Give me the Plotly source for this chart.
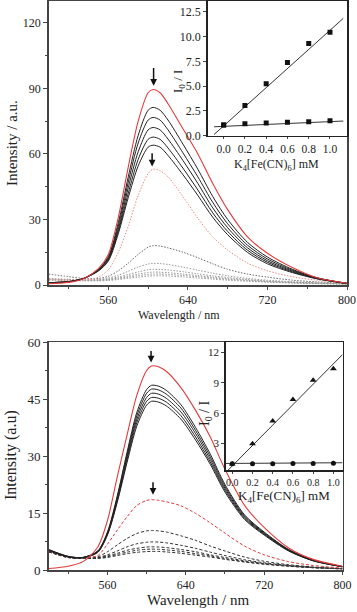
import plotly.graph_objects as go

FONT = "Liberation Serif"
W, H = 357, 612

# ---------------- data ----------------
wavelength = [500, 520, 535, 550, 560, 570, 580, 590, 600, 605, 612, 620, 635, 650, 665, 680, 700, 720, 745, 770, 800]

# top panel
top_red = [0.6, 1.2, 2.9, 7.5, 14.0, 31.0, 54.0, 75.0, 88.0, 89.5, 88.0, 83.0, 71.5, 60.0, 46.5, 34.5, 22.0, 14.5, 8.0, 3.3, 0.8]
top_black = [
    [1.1, 1.5, 3.0, 7.2, 13.0, 28.5, 49.5, 68.5, 80.0, 81.3, 80.0, 75.5, 64.5, 53.0, 40.5, 30.0, 19.5, 12.8, 7.2, 3.3, 0.7],
    [1.1, 1.5, 3.0, 7.0, 12.5, 27.0, 47.0, 65.0, 75.5, 76.7, 75.5, 71.0, 60.5, 49.5, 37.8, 28.0, 18.2, 11.9, 6.8, 3.2, 0.7],
    [1.1, 1.5, 3.0, 6.8, 12.0, 25.5, 44.5, 61.0, 71.0, 72.1, 71.0, 66.8, 57.0, 46.5, 35.3, 26.2, 17.0, 11.1, 6.4, 3.1, 0.7],
    [1.1, 1.5, 3.0, 6.6, 11.5, 24.5, 42.0, 57.5, 66.7, 67.7, 66.7, 62.7, 53.5, 43.5, 33.0, 24.5, 15.9, 10.4, 6.0, 2.9, 0.7],
    [1.1, 1.5, 3.0, 6.4, 11.0, 23.5, 40.0, 54.5, 63.1, 64.0, 63.1, 59.3, 50.5, 41.0, 31.0, 23.0, 14.9, 9.7, 5.7, 2.8, 0.7],
]
top_red_dot = [2.5, 2.2, 2.3, 3.5, 7.0, 15.0, 27.0, 41.0, 51.0, 53.0, 52.3, 49.5, 40.5, 30.5, 22.0, 16.0, 10.0, 6.5, 3.8, 2.2, 1.0]
top_gray_dot = [
    [5.0, 3.8, 3.0, 3.0, 4.0, 6.5, 10.0, 14.0, 17.3, 18.0, 17.8, 17.0, 15.0, 12.5, 9.7, 7.2, 5.0, 3.6, 2.2, 1.4, 0.8],
    [3.0, 2.6, 2.4, 2.5, 3.2, 4.5, 6.3, 8.2, 9.6, 9.9, 9.8, 9.4, 8.2, 6.8, 5.4, 4.2, 3.0, 2.2, 1.5, 1.0, 0.6],
    [2.8, 2.5, 2.3, 2.3, 2.8, 3.7, 4.8, 6.0, 7.0, 7.2, 7.1, 6.9, 6.1, 5.1, 4.2, 3.4, 2.5, 1.8, 1.3, 0.9, 0.6],
    [2.6, 2.4, 2.2, 2.2, 2.5, 3.2, 4.1, 5.0, 5.7, 5.9, 5.85, 5.65, 5.0, 4.3, 3.6, 2.9, 2.2, 1.6, 1.1, 0.8, 0.5],
    [2.4, 2.2, 2.1, 2.1, 2.3, 2.9, 3.6, 4.3, 4.85, 5.0, 5.0, 4.85, 4.35, 3.8, 3.2, 2.6, 2.0, 1.5, 1.0, 0.7, 0.5],
    [2.2, 2.0, 1.9, 1.9, 2.1, 2.5, 3.1, 3.6, 4.1, 4.2, 4.2, 4.1, 3.7, 3.2, 2.7, 2.2, 1.7, 1.3, 0.9, 0.6, 0.4],
]

# bottom panel
bot_red = [0.4, 1.0, 2.2, 6.0, 13.0, 24.5, 35.5, 46.0, 52.5, 53.7, 53.5, 52.3, 48.0, 42.0, 35.0, 26.5, 17.0, 11.2, 5.8, 2.8, 1.0]
bot_black = [
    [5.4, 3.6, 3.3, 5.0, 10.0, 19.5, 31.0, 41.5, 47.5, 48.6, 48.4, 47.3, 43.5, 37.5, 30.5, 22.5, 14.5, 10.0, 5.4, 2.6, 0.9],
    [5.3, 3.55, 3.3, 4.9, 9.8, 19.1, 30.4, 40.6, 46.5, 47.6, 47.4, 46.3, 42.6, 36.7, 29.8, 22.0, 14.2, 9.8, 5.3, 2.55, 0.9],
    [5.25, 3.5, 3.3, 4.8, 9.6, 18.7, 29.7, 39.7, 45.4, 46.5, 46.3, 45.2, 41.6, 35.9, 29.1, 21.5, 13.9, 9.6, 5.2, 2.5, 0.9],
    [5.2, 3.45, 3.25, 4.7, 9.4, 18.2, 29.0, 38.8, 44.4, 45.4, 45.2, 44.2, 40.6, 35.0, 28.4, 21.0, 13.6, 9.4, 5.1, 2.45, 0.85],
    [5.1, 3.4, 3.2, 4.6, 9.2, 17.8, 28.3, 37.9, 43.4, 44.4, 44.2, 43.2, 39.7, 34.2, 27.8, 20.5, 13.3, 9.2, 5.0, 2.4, 0.85],
]
bot_red_dash = [5.0, 3.4, 3.2, 3.8, 6.8, 10.5, 14.0, 17.0, 18.3, 18.5, 18.35, 17.95, 16.9, 14.9, 12.4, 9.7, 6.3, 4.0, 2.2, 1.2, 0.5]
bot_black_dash = [
    [5.0, 3.4, 3.2, 3.5, 4.8, 6.6, 8.3, 9.6, 10.3, 10.4, 10.3, 10.0, 9.0, 7.8, 6.3, 5.0, 3.4, 2.3, 1.4, 0.8, 0.4],
    [4.9, 3.35, 3.15, 3.3, 4.0, 5.0, 6.1, 6.9, 7.3, 7.4, 7.35, 7.15, 6.5, 5.7, 4.7, 3.8, 2.7, 1.9, 1.2, 0.7, 0.35],
    [4.85, 3.3, 3.1, 3.2, 3.7, 4.4, 5.2, 5.7, 6.05, 6.1, 6.05, 5.9, 5.4, 4.8, 4.0, 3.3, 2.4, 1.7, 1.1, 0.65, 0.3],
    [4.8, 3.3, 3.1, 3.1, 3.5, 4.1, 4.7, 5.2, 5.45, 5.5, 5.45, 5.3, 4.9, 4.3, 3.7, 3.0, 2.2, 1.6, 1.0, 0.6, 0.3],
    [4.75, 3.25, 3.05, 3.05, 3.3, 3.8, 4.3, 4.65, 4.85, 4.9, 4.88, 4.75, 4.4, 3.9, 3.4, 2.8, 2.1, 1.5, 1.0, 0.6, 0.3],
]

# insets (Stern-Volmer)
conc = [0.0, 0.2, 0.4, 0.6, 0.8, 1.0]
top_sv_high = [1.07, 3.05, 5.25, 7.4, 9.3, 10.45]
top_sv_low = [1.07, 1.2, 1.27, 1.35, 1.42, 1.5]
top_fit_x = [-0.09, 1.125]
top_fit_high = [0.12, 11.85]
top_fit_low = [0.9, 1.48]

bot_sv_high = [0.95, 2.95, 5.2, 7.35, 9.25, 10.4]
bot_sv_low = [0.97, 0.98, 0.98, 0.99, 1.0, 1.03]
bot_fit_x = [-0.04, 1.09]
bot_fit_high = [0.35, 11.8]
bot_fit_low_x = [-0.065, 1.09]
bot_fit_low = [1.0, 1.07]

# arrows: (wavelength, tail value, head value)
top_arrows = [(605.5, 100.0, 91.2), (604.0, 61.0, 54.2)]
bot_arrows = [(604.5, 58.0, 54.6), (606.5, 23.5, 19.8)]

RED = "#e23b3b"
fig = go.Figure()

def curve(y, xa, ya, color, dash="solid", width=1.0):
    fig.add_trace(go.Scatter(x=wavelength, y=y, xaxis=xa, yaxis=ya, mode="lines",
                             line=dict(color=color, width=width, dash=dash, shape="spline", smoothing=0.8),
                             showlegend=False, hoverinfo="skip"))

# top panel traces
for i, g in enumerate(top_gray_dot):
    curve(g, "x", "y", "#666" if i == 0 else "#999", dash="1.5px,1.5px", width=1.0)
curve(top_red_dot, "x", "y", "#f08a8a", dash="1.5px,1.5px", width=1.0)
for b in top_black:
    curve(b, "x", "y", "#222", width=1.0)
curve(top_red, "x", "y", RED, width=1.1)

# bottom panel traces
for b in bot_black_dash:
    curve(b, "x2", "y2", "#333", dash="3px,2px", width=1.0)
curve(bot_red_dash, "x2", "y2", RED, dash="3px,2px", width=1.0)
for b in bot_black:
    curve(b, "x2", "y2", "#222", width=1.0)
curve(bot_red, "x2", "y2", RED, width=1.1)

# insets
def line(x, y, xa, ya):
    fig.add_trace(go.Scatter(x=x, y=y, xaxis=xa, yaxis=ya, mode="lines",
                             line=dict(color="#333", width=1), showlegend=False, hoverinfo="skip"))

def pts(y, xa, ya, symbol, size):
    fig.add_trace(go.Scatter(x=conc, y=y, xaxis=xa, yaxis=ya, mode="markers",
                             marker=dict(symbol=symbol, size=size, color="#111"),
                             showlegend=False, hoverinfo="skip"))

line(top_fit_x, top_fit_high, "x3", "y3")
line(top_fit_x, top_fit_low, "x3", "y3")
pts(top_sv_high, "x3", "y3", "square", 5)
pts(top_sv_low, "x3", "y3", "square", 5)

line(bot_fit_x, bot_fit_high, "x4", "y4")
line(bot_fit_low_x, bot_fit_low, "x4", "y4")
pts(bot_sv_high, "x4", "y4", "triangle-up", 6)
pts(bot_sv_low, "x4", "y4", "circle", 5)

def px(v):
    return v / W
def py(v):
    return 1 - v / H

def axis(domain, rng, anchor, size=12, **kw):
    d = dict(domain=domain, range=rng, anchor=anchor, showline=True, mirror=True,
             linecolor="#444", linewidth=1.5, ticks="outside", ticklen=4, tickwidth=1,
             tickcolor="#444", showgrid=False, zeroline=False, automargin=False,
             tickfont=dict(family=FONT, size=size, color="#222"))
    d.update(kw)
    return d

minor_x = dict(ticklen=2.5, tickcolor="#444", dtick=40, showgrid=False)

layout = dict(
    template="none",
    width=W, height=H, margin=dict(l=0, r=0, t=0, b=0, pad=0),
    paper_bgcolor="white", plot_bgcolor="white", showlegend=False,
    font=dict(family=FONT, color="#222"),
    xaxis=axis([px(48.7), px(347)], [500, 800], "y", tick0=560, dtick=80, minor=minor_x, ticklen=3),
    yaxis=axis([py(285), py(1)], [0, 130], "x", tick0=0, dtick=30,
               minor=dict(ticklen=2.5, tickcolor="#444", dtick=15, showgrid=False)),
    xaxis2=axis([px(48.7), px(342.5)], [500, 800], "y2", tick0=560, dtick=80, minor=minor_x, ticklen=3),
    yaxis2=axis([py(570), py(342)], [0, 60], "x2", size=13, tick0=0, dtick=15,
                minor=dict(ticklen=2.5, tickcolor="#444", dtick=7.5, showgrid=False)),
    xaxis3=axis([px(207.7), px(347)], [-0.15, 1.16], "y3", tick0=0, dtick=0.2, tickformat=".1f",
                ticklen=2, linecolor="#222", size=11.5),
    yaxis3=axis([py(135.7), py(1)], [0, 13.6], "x3", tick0=0, dtick=2.5, tickformat=".1f",
                ticklen=3, linecolor="#222", size=12),
    xaxis4=axis([px(225.7), px(342.5)], [-0.065, 1.09], "y4", tick0=0, dtick=0.2, tickformat=".1f",
                ticklen=2, linecolor="#222", size=10),
    yaxis4=axis([py(470), py(342)], [0.35, 13.05], "x4", tickvals=[3, 6, 9, 12],
                ticklen=3, linecolor="#222", size=11),
)
fig.update_layout(**layout)

tf = dict(family=FONT, color="#222")
ann = [
    dict(text="Intensity / a.u.", x=px(12), y=py(143), textangle=-90, font=dict(size=15, **tf)),
    dict(text="Wavelength / nm", x=px(179), y=py(315), font=dict(size=12, **tf)),
    dict(text="Intensity (a.u)", x=px(11), y=py(455), textangle=-90, font=dict(size=16, **tf)),
    dict(text="Wavelength / nm", x=px(198), y=py(600), font=dict(size=15, **tf)),
    dict(text="I<sub>0</sub> / I", x=px(179), y=py(82), textangle=-90, font=dict(size=13, **tf)),
    dict(text="K<sub>4</sub>[Fe(CN)<sub>6</sub>] mM", x=px(276), y=py(165), font=dict(size=12, **tf)),
    dict(text="I<sub>0</sub> / I", x=px(205), y=py(413), textangle=-90, font=dict(size=14, **tf)),
    dict(text="K<sub>4</sub>[Fe(CN)<sub>6</sub>] mM", x=px(284), y=py(496), font=dict(size=13, **tf)),
]
annotations = [dict(xref="paper", yref="paper", showarrow=False, xanchor="center", yanchor="middle", **a) for a in ann]

for (lx, tail, head) in top_arrows:
    annotations.append(dict(x=lx, y=head, ax=lx, ay=tail, xref="x", yref="y", axref="x", ayref="y",
                            text="", showarrow=True, arrowhead=2, arrowsize=0.9, arrowwidth=1.5, arrowcolor="#111"))
for (lx, tail, head) in bot_arrows:
    annotations.append(dict(x=lx, y=head, ax=lx, ay=tail, xref="x2", yref="y2", axref="x2", ayref="y2",
                            text="", showarrow=True, arrowhead=2, arrowsize=0.9, arrowwidth=1.5, arrowcolor="#111"))

fig.update_layout(annotations=annotations)
fig.write_html("out.html", config={"displayModeBar": False, "staticPlot": True},
               post_script="document.body.style.margin='0px';document.body.style.padding='0px';")
